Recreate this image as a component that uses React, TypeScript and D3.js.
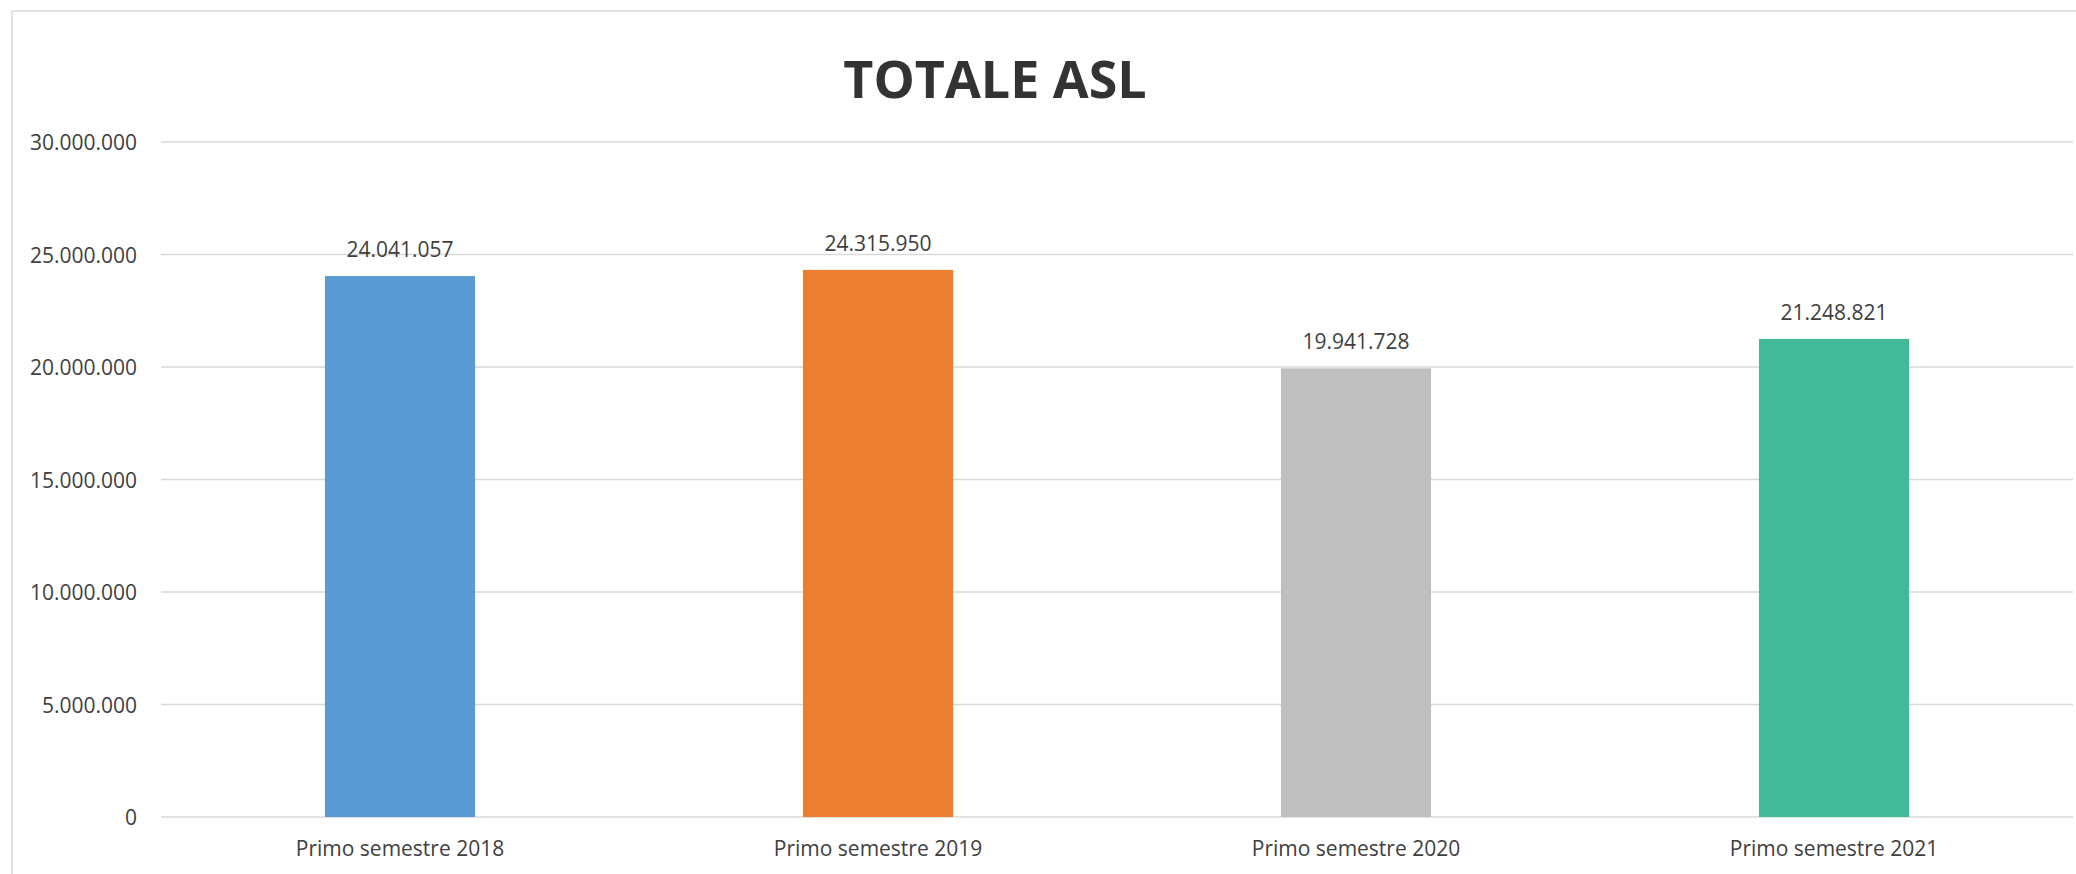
import React from "react";
import * as d3 from "d3";

const categories = ["Primo semestre 2018", "Primo semestre 2019", "Primo semestre 2020", "Primo semestre 2021"];
const values = [24041057, 24315950, 19941728, 21248821];
const colors = ["#5B9BD5", "#ED7D31", "#BFBFBF", "#43BA97"];
const yTicks = [0, 5000000, 10000000, 15000000, 20000000, 25000000, 30000000];
const title = "TOTALE ASL";

const W = 2076;
const H = 874;
const plot = { left: 161, right: 2073, top: 142, bottom: 817 };
const FONT = "'Open Sans', 'Noto Sans', sans-serif";

const fmt = (v: number) => d3.format(",")(v).replace(/,/g, ".");

export default function App() {
  const x = d3.scaleBand<string>().domain(categories).range([plot.left, plot.right]).padding(0);
  const y = d3.scaleLinear().domain([0, 30000000]).range([plot.bottom, plot.top]);
  const barW = x.bandwidth() * 0.314;

  return (
    <svg
      width={W}
      height={H}
      style={{ position: "absolute", left: 0, top: 0, background: "#fff" }}
      fontFamily={FONT}
    >
      <rect x={0} y={0} width={W} height={H} fill="#fff" />
      <line x1={12} y1={11} x2={W} y2={11} stroke="#D9D9D9" strokeWidth={1.5} />
      <line x1={12} y1={11} x2={12} y2={H} stroke="#D9D9D9" strokeWidth={1.5} />

      <text x={995} y={98} textAnchor="middle" fontSize={52} fontWeight="bold" fill="#333333">
        {title}
      </text>

      {yTicks.map((t) => (
        <g key={t}>
          <line x1={plot.left} x2={plot.right} y1={y(t)} y2={y(t)} stroke="#D9D9D9" strokeWidth={1.5} />
          <text x={137} y={y(t) + 8} textAnchor="end" fontSize={21} fill="#404040">
            {fmt(t)}
          </text>
        </g>
      ))}

      {categories.map((c, i) => {
        const cx = (x(c) as number) + x.bandwidth() / 2;
        return (
          <g key={c}>
            <rect x={cx - barW / 2} y={y(values[i])} width={barW} height={y(0) - y(values[i])} fill={colors[i]} />
            <text x={cx} y={y(values[i]) - 19} textAnchor="middle" fontSize={21} fill="#404040">
              {fmt(values[i])}
            </text>
            <text x={cx} y={856} textAnchor="middle" fontSize={21} fill="#404040">
              {c}
            </text>
          </g>
        );
      })}
    </svg>
  );
}
